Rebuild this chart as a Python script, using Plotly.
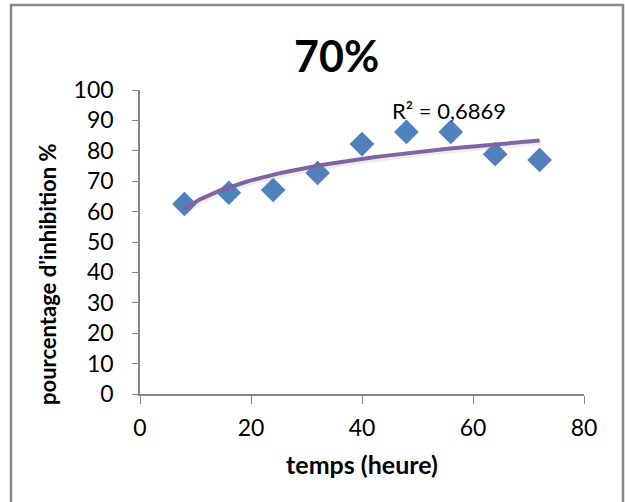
import numpy as np
import plotly.graph_objects as go

# Inhibition measurements over time
hours = [8, 16, 24, 32, 40, 48, 56, 64, 72]
inhibition = [62.5, 66.2, 67.1, 72.7, 82.2, 86.2, 86.2, 78.9, 77.0]
x_ticks = [0, 20, 40, 60, 80]
y_ticks = list(range(0, 101, 10))
r2_label = "R² = 0,6869"

# Logarithmic trend line y = a*ln(x) + b
a, b = np.polyfit(np.log(hours), inhibition, 1)
trend_x = np.linspace(hours[0], hours[-1], 120)
trend_y = a * np.log(trend_x) + b

W, H = 625, 502
L, R, T, B = 140, 41, 90, 108
pw, ph = W - L - R, H - T - B

def px(xp):
    return (xp - L) / pw

def py(yp):
    return (H - B - yp) / ph

font = "Lato, 'Open Sans', sans-serif"

fig = go.Figure()
# soft shadow under the trend line
fig.add_trace(go.Scatter(x=trend_x + 0.3, y=trend_y - 0.7, mode="lines",
                         line=dict(color="rgba(0,0,0,0.07)", width=5),
                         hoverinfo="skip", showlegend=False))
fig.add_trace(go.Scatter(x=hours, y=inhibition, mode="markers",
                         marker=dict(symbol="diamond", size=19, color="#4F81BD",
                                     line=dict(width=0)),
                         showlegend=False))
fig.add_trace(go.Scatter(x=trend_x, y=trend_y, mode="lines",
                         line=dict(color="#8064A2", width=4),
                         showlegend=False))

axis_line = "#868686"
fig.update_layout(
    width=W, height=H,
    margin=dict(l=L, r=R, t=T, b=B),
    paper_bgcolor="white", plot_bgcolor="white",
    font=dict(family=font, color="black"),
    xaxis=dict(range=[0, 80], tickvals=x_ticks, showgrid=False, zeroline=False,
               showline=True, linecolor=axis_line, linewidth=1.5,
               ticks="outside", ticklen=8, tickcolor=axis_line,
               tickfont=dict(size=23), ticklabelstandoff=5,
               title=dict(text="<b>temps (heure)</b>", font=dict(size=25), standoff=16)),
    yaxis=dict(range=[0, 100], tickvals=y_ticks, showgrid=False, zeroline=False,
               showline=True, linecolor=axis_line, linewidth=1.5,
               ticks="outside", ticklen=6, tickcolor=axis_line,
               tickfont=dict(size=23), ticklabelstandoff=14),
    shapes=[dict(type="rect", xref="paper", yref="paper",
                 x0=px(11), x1=px(623), y0=py(506), y1=py(5),
                 line=dict(color="#888888", width=2.5), fillcolor="rgba(0,0,0,0)")],
    annotations=[
        dict(text="<b>70%</b>", xref="paper", yref="paper", x=px(336), y=py(55),
             showarrow=False, font=dict(size=43, family=font), xanchor="center", yanchor="middle"),
        dict(text="<b>pourcentage d'inhibition %</b>", xref="paper", yref="paper",
             x=px(47), y=py(275), textangle=-90, showarrow=False,
             font=dict(size=22, family=font), xanchor="center", yanchor="middle"),
        dict(text=r2_label, x=55.6, y=93.1, xref="x", yref="y", showarrow=False,
             font=dict(size=22, family=font), xanchor="center", yanchor="middle"),
    ],
)

fig.write_html("out.html")
